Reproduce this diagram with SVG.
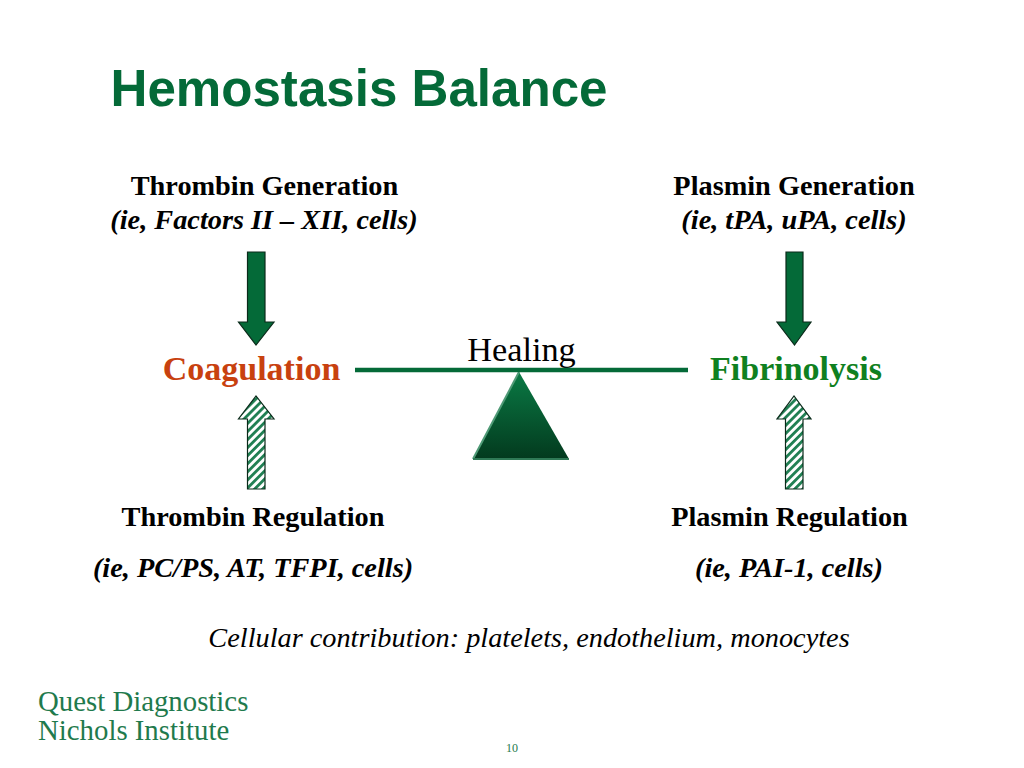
<svg xmlns="http://www.w3.org/2000/svg" width="1024" height="768" viewBox="0 0 1024 768">
<style>
text{font-family:"Liberation Serif","Times New Roman",serif;text-anchor:middle}
.h{font-size:28.300px;font-weight:bold;fill:#000}
.i{font-size:28.300px;font-weight:bold;font-style:italic;fill:#000}
.n{font-size:34px;font-weight:bold}
.logo{fill:#1f7a4d;text-anchor:start;font-size:28.800px}
.dn{fill:#046a38;stroke:#0a2a1a;stroke-width:1.2}
.up{fill:url(#hatch);stroke:#0a2a1a;stroke-width:1.2}
</style>
<defs>
<pattern id="hatch" width="5.700" height="5.700" patternUnits="userSpaceOnUse" patternTransform="rotate(-45)">
<rect width="5.700" height="5.700" fill="#fff"/>
<rect width="5.700" height="2.800" y="0" fill="#1f7f52"/>
</pattern>
<linearGradient id="tri" x1="0" y1="0" x2="0" y2="1">
<stop offset="0" stop-color="#0a7a45"/><stop offset="1" stop-color="#033a1e"/>
</linearGradient>
</defs>
<rect width="1024" height="768" fill="#fff"/>
<text x="110.500" y="105.500" style="font-family:'Liberation Sans',Arial,sans-serif;text-anchor:start;font-size:51.100px;font-weight:bold;fill:#046a38">Hemostasis Balance</text>

<g id="thrombin-generation"><text class="h" x="264.500" y="195">Thrombin Generation</text><text class="i" x="264" y="229">(ie, Factors II – XII, cells)</text></g>
<g id="plasmin-generation"><text class="h" x="794" y="195">Plasmin Generation</text><text class="i" x="794" y="229">(ie, tPA, uPA, cells)</text></g>
<g id="coagulation"><text class="n" x="251.500" y="380" fill="#c8410f">Coagulation</text></g>
<g id="fibrinolysis"><text class="n" x="796" y="380" fill="#0f8020">Fibrinolysis</text></g>
<g id="thrombin-regulation"><text class="h" x="253" y="526">Thrombin Regulation</text><text class="i" x="253" y="577">(ie, PC/PS, AT, TFPI, cells)</text></g>
<g id="plasmin-regulation"><text class="h" x="789.500" y="526">Plasmin Regulation</text><text class="i" x="789" y="577">(ie, PAI-1, cells)</text></g>
<g id="healing">
<text x="521.500" y="361" style="font-size:34.300px;fill:#000">Healing</text>
<polygon points="519,372 473,459 569,459" fill="url(#tri)"/>
<path d="M519,372 L473,459" stroke="#4f9a76" stroke-width="2" fill="none"/>
<path d="M473,459 H569" stroke="#2f7a56" stroke-width="2" fill="none"/>
</g>
<g id="connectors">
<path class="dn" d="M247.500,252 H265 V322 H274 L256,345 L238.500,322 H247.500 Z"/>
<path class="dn" d="M786,252 H803 V322 H811 L794.500,345 L777,322 H786 Z"/>
<path class="up" d="M247.500,489 H265 V419 H274 L256,396 L238.500,419 H247.500 Z"/>
<path class="up" d="M785.500,489 H803 V419 H811 L794,396 L777,419 H785.500 Z"/>
<line x1="355" y1="370" x2="688" y2="370" stroke="#046a38" stroke-width="4.500"/>
</g>
<text x="529" y="647" style="font-size:28.300px;font-style:italic;fill:#000">Cellular contribution: platelets, endothelium, monocytes</text>
<g id="logo"><text class="logo" x="38" y="711">Quest Diagnostics</text><text class="logo" x="38" y="740">Nichols Institute</text></g>
<text x="512" y="752" style="font-size:12px;fill:#1f7a4d">10</text>
</svg>
